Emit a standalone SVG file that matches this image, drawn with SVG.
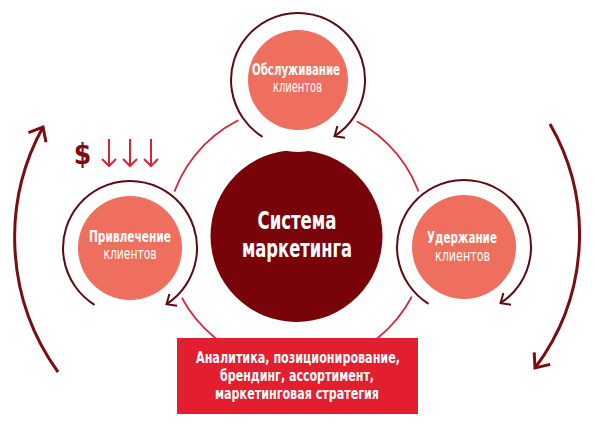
<svg xmlns="http://www.w3.org/2000/svg" width="595" height="431" viewBox="0 0 595 431">
<style>
.ring{fill:none;stroke:#d42a3c;stroke-width:1.8}
.halo{fill:#ffffff}
.disc{fill:#ef6f5e}
.arc{fill:none;stroke:#5e0a10;stroke-width:2;marker-end:url(#chev)}
.big{fill:none;stroke:#7a0c12;stroke-width:3;marker-end:url(#chevBig)}
.down{fill:none;stroke:#d3263a;stroke-width:2}
.t{font-family:"DejaVu Sans Condensed","Liberation Sans",sans-serif;fill:#ffffff;text-anchor:middle}
.b{font-weight:bold}
</style>
<defs>
<marker id="chev" markerUnits="userSpaceOnUse" markerWidth="20" markerHeight="20" refX="0" refY="0" viewBox="-10 -10 20 20" orient="auto" overflow="visible">
<path d="M -8 -7 L 0 0 L -8 7" fill="none" stroke="#5e0a10" stroke-width="2"/>
</marker>
<marker id="chevBig" markerUnits="userSpaceOnUse" markerWidth="30" markerHeight="30" refX="0" refY="0" viewBox="-15 -15 30 30" orient="auto" overflow="visible">
<path d="M -12 -10 L 0 0 L -12 10" fill="none" stroke="#7a0c12" stroke-width="3"/>
</marker>
</defs>
<rect width="595" height="431" fill="#ffffff"/>
<g id="connectors">
<circle class="ring" cx="296.5" cy="236.5" r="130"/>
<path class="big" d="M 58 372 A 230 230 0 0 1 43 127"/>
<path class="big" d="M 550 124 A 222 222 0 0 1 535 368"/>
</g>
<g id="center-node">
<circle cx="296.5" cy="236" r="86" fill="#780309"/>
<text class="t b" x="297" y="229" font-size="25" textLength="79" lengthAdjust="spacingAndGlyphs">Система</text>
<text class="t b" x="297" y="257" font-size="25" textLength="110" lengthAdjust="spacingAndGlyphs">маркетинга</text>
</g>
<g id="node-service">
<circle class="halo" cx="298" cy="80" r="72"/>
<path class="arc" d="M 262.5 136.8 A 67 67 0 1 1 334.5 136.2"/>
<circle class="disc" cx="298" cy="80" r="50"/>
<text class="t b" x="296" y="75" font-size="15" textLength="88" lengthAdjust="spacingAndGlyphs">Обслуживание</text>
<text class="t" x="297.5" y="92" font-size="15" textLength="49" lengthAdjust="spacingAndGlyphs">клиентов</text>
</g>
<g id="node-attract">
<circle class="halo" cx="130" cy="248" r="72"/>
<path class="arc" d="M 94.5 304.8 A 67 67 0 1 1 166.5 304.2"/>
<circle class="disc" cx="130" cy="248" r="52"/>
<text class="t b" x="130" y="242" font-size="15" textLength="82" lengthAdjust="spacingAndGlyphs">Привлечение</text>
<text class="t" x="130" y="259" font-size="15" textLength="53" lengthAdjust="spacingAndGlyphs">клиентов</text>
</g>
<g id="node-retain">
<circle class="halo" cx="464" cy="247" r="72"/>
<path class="arc" d="M 428.5 303.8 A 67 67 0 1 1 500.5 303.2"/>
<circle class="disc" cx="464" cy="247" r="52"/>
<text class="t b" x="462" y="243" font-size="15" textLength="70" lengthAdjust="spacingAndGlyphs">Удержание</text>
<text class="t" x="462.5" y="261" font-size="15" textLength="55" lengthAdjust="spacingAndGlyphs">клиентов</text>
</g>
<g id="money">
<text x="82.5" y="164" font-family="DejaVu Sans Condensed, Liberation Sans, sans-serif" font-weight="bold" font-size="28" fill="#7a0c12" text-anchor="middle">$</text>
<path class="down" d="M 109 139 V 166 M 102 159 L 109 166 L 116 159"/>
<path class="down" d="M 130 139 V 166 M 123 159 L 130 166 L 137 159"/>
<path class="down" d="M 151 139 V 166 M 144 159 L 151 166 L 158 159"/>
</g>
<g id="analytics">
<rect x="177" y="338" width="241" height="76" fill="#e31e2f"/>
<text class="t b" x="298" y="363" font-size="16" textLength="204" lengthAdjust="spacingAndGlyphs">Аналитика, позиционирование,</text>
<text class="t b" x="297" y="381" font-size="16" textLength="154" lengthAdjust="spacingAndGlyphs">брендинг, ассортимент,</text>
<text class="t b" x="297" y="399" font-size="16" textLength="164" lengthAdjust="spacingAndGlyphs">маркетинговая стратегия</text>
</g>
</svg>
